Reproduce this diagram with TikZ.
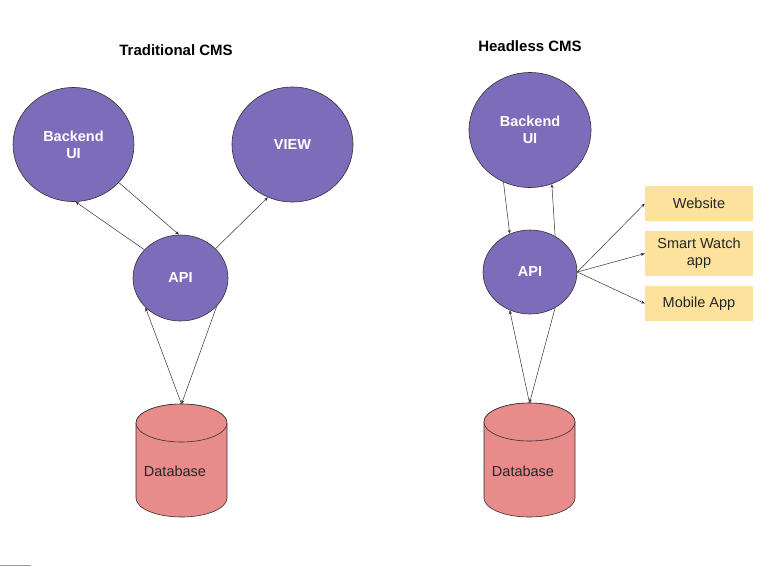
\documentclass[tikz,border=0pt]{standalone}
\usepackage{fontspec}
\setmainfont{Liberation Sans}
\usetikzlibrary{shapes.geometric,arrows.meta}
\definecolor{purp}{HTML}{7D6CB9}
\definecolor{dbred}{HTML}{E88B8B}
\definecolor{ybox}{HTML}{FCE29C}
\definecolor{edge}{HTML}{333333}
\tikzset{
  circ/.style={ellipse, draw=edge, line width=0.6pt, fill=purp, text=white, font=\bfseries\fontsize{14.5}{17}\selectfont, align=center, inner sep=0pt},
  dbshape/.style={draw=edge, line width=0.6pt, fill=dbred},
  dbtext/.style={font=\fontsize{14.5}{17}\selectfont, text=black!85},
  tbox/.style={rectangle, fill=ybox, minimum width=108pt, align=center, font=\fontsize{14.5}{17}\selectfont, text=black!85},
  ttl/.style={font=\bfseries\fontsize{15}{17}\selectfont},
  conn/.style={draw=black!80, line width=0.5pt, -{Stealth[length=4pt,width=3pt]}},
}
\begin{document}
\begin{tikzpicture}[x=1pt,y=-1pt]
\useasboundingbox (0,0) rectangle (778,566);
% Left: Traditional CMS
\node[ttl] (t1) at (176,50) {Traditional CMS};
\node[circ, minimum width=121pt, minimum height=114pt] (bl) at (73.5,144.5) {Backend\\UI};
\node[circ, minimum width=121pt, minimum height=115pt] (view) at (292.5,144.5) {VIEW};
\node[circ, minimum width=95pt, minimum height=86pt] (apil) at (180.5,278) {API};
% database cylinder (left)
\path[dbshape] (136,423) -- (136,498) arc[start angle=180, end angle=360, x radius=45.5pt, y radius=19pt] -- (227,423) arc[start angle=0, end angle=180, x radius=45.5pt, y radius=19pt] -- cycle;
\path[dbshape] (181.5,423) ellipse[x radius=45.5pt, y radius=19pt];
\node[dbtext] (dbl) at (175,471) {Database};
\coordinate (dbltop) at (181.5,404);
\draw[conn] (bl.-40) -- (apil.92);
\draw[conn] (apil.142) -- (bl.-88);
\draw[conn] (apil.40) -- (view.-115);
\draw[conn] (dbltop) -- (apil.-140);
\draw[conn] (apil.-38) -- (dbltop);
% Right: Headless CMS
\node[ttl] (t2) at (530,46) {Headless CMS};
\node[circ, minimum width=122pt, minimum height=115pt] (br) at (530,130) {Backend\\UI};
\node[circ, minimum width=94pt, minimum height=84pt] (apir) at (530,272) {API};
% database cylinder (right)
\path[dbshape] (484,422) -- (484,498) arc[start angle=180, end angle=360, x radius=45.5pt, y radius=19pt] -- (575,422) arc[start angle=0, end angle=180, x radius=45.5pt, y radius=19pt] -- cycle;
\path[dbshape] (529.5,422) ellipse[x radius=45.5pt, y radius=19pt];
\node[dbtext] (dbr) at (523,471) {Database};
\coordinate (dbrtop) at (529.5,403);
\node[tbox, minimum height=35pt] (web) at (699,203.5) {Website};
\node[tbox, minimum height=45pt] (watch) at (699,253.5) {Smart Watch\\app};
\node[tbox, minimum height=35pt] (mob) at (699,303.5) {Mobile App};
\draw[conn] (br.-117) -- (apir.118);
\draw[conn] (apir.55) -- (br.-68);
\draw[conn] (apir.east) -- (web.west);
\draw[conn] (apir.east) -- (watch.west);
\draw[conn] (apir.east) -- (mob.west);
\draw[conn] (dbrtop) -- (apir.-118);
\draw[conn] (apir.-55) -- (dbrtop);
% stray grey mark at bottom left
\draw[black!40, line width=1pt] (0,565) -- (31,565);
\end{tikzpicture}
\end{document}
